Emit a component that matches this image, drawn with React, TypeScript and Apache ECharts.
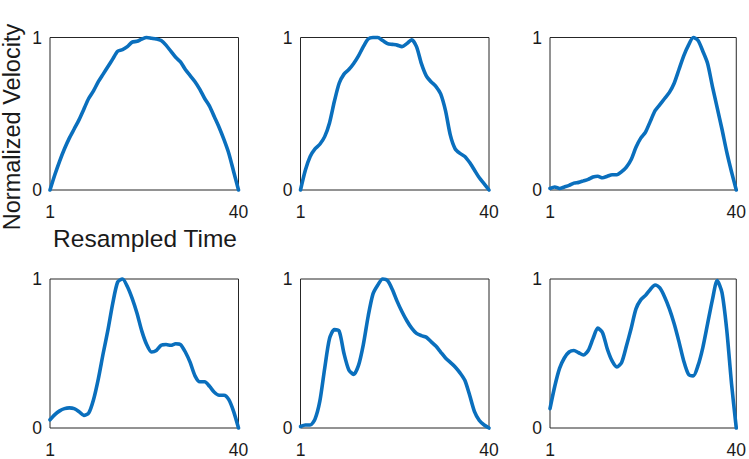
import React, { useEffect, useRef } from "react";
import * as echarts from "echarts";

const timeSteps: number[] = Array.from({ length: 40 }, (_, k) => k + 1);
const xTickLabels = ["1", "40"];
const yTickLabels = ["0", "1"];
const xAxisTitle = "Resampled Time";
const yAxisTitle = "Normalized Velocity";

const velocity1 = [0, 0.1, 0.19, 0.27, 0.34, 0.4, 0.46, 0.53, 0.6, 0.65, 0.71, 0.76, 0.81, 0.86, 0.91, 0.92, 0.94, 0.97, 0.975, 0.99, 1.0, 0.995, 0.99, 0.98, 0.95, 0.91, 0.87, 0.84, 0.79, 0.75, 0.71, 0.66, 0.6, 0.55, 0.48, 0.41, 0.33, 0.24, 0.12, 0];
const velocity2 = [0, 0.13, 0.22, 0.27, 0.3, 0.35, 0.44, 0.58, 0.7, 0.76, 0.79, 0.83, 0.88, 0.94, 0.99, 1.0, 1.0, 0.98, 0.96, 0.955, 0.95, 0.94, 0.96, 0.985, 0.94, 0.83, 0.75, 0.71, 0.68, 0.63, 0.52, 0.36, 0.27, 0.24, 0.22, 0.18, 0.13, 0.08, 0.04, 0];
const velocity3 = [0.01, 0.02, 0.01, 0.02, 0.03, 0.045, 0.05, 0.06, 0.07, 0.085, 0.09, 0.08, 0.09, 0.1, 0.1, 0.12, 0.15, 0.2, 0.28, 0.34, 0.38, 0.45, 0.52, 0.56, 0.6, 0.64, 0.7, 0.79, 0.88, 0.95, 1.0, 0.98, 0.91, 0.83, 0.68, 0.54, 0.4, 0.25, 0.12, 0];
const velocity4 = [0.055, 0.09, 0.115, 0.13, 0.135, 0.13, 0.11, 0.085, 0.1, 0.19, 0.33, 0.5, 0.66, 0.84, 0.98, 1.0, 0.95, 0.87, 0.77, 0.65, 0.56, 0.51, 0.52, 0.555, 0.56, 0.555, 0.565, 0.56, 0.51, 0.44, 0.35, 0.31, 0.31, 0.28, 0.24, 0.22, 0.22, 0.19, 0.11, 0];
const velocity5 = [0.01, 0.02, 0.02, 0.06, 0.18, 0.4, 0.6, 0.66, 0.65, 0.5, 0.39, 0.36, 0.42, 0.56, 0.75, 0.9, 0.96, 1.0, 0.99, 0.93, 0.85, 0.78, 0.72, 0.67, 0.635, 0.62, 0.61, 0.58, 0.55, 0.51, 0.47, 0.44, 0.41, 0.37, 0.32, 0.22, 0.11, 0.05, 0.02, 0];
const velocity6 = [0.13, 0.28, 0.4, 0.47, 0.51, 0.52, 0.505, 0.49, 0.52, 0.6, 0.67, 0.64, 0.53, 0.45, 0.41, 0.44, 0.55, 0.67, 0.8, 0.86, 0.89, 0.93, 0.96, 0.94, 0.88, 0.8, 0.7, 0.58, 0.45, 0.36, 0.35, 0.42, 0.54, 0.7, 0.86, 0.99, 0.91, 0.66, 0.3, 0];

const allSeries = [velocity1, velocity2, velocity3, velocity4, velocity5, velocity6];

const FONT = "'Liberation Sans', Arial, Helvetica, sans-serif";
const TEXT_COLOR = "#1a1a1a";
const LINE_COLOR = "#0a6fbd";

const colLefts = [50, 300.5, 550];
const colWidths = [188.5, 188.5, 187.5];
const rowTops = [37.5, 279];
const plotHeight = 152.5;

export default function App() {
  const ref = useRef<HTMLDivElement>(null);

  useEffect(() => {
    if (!ref.current) return;
    const chart = echarts.init(ref.current, undefined, { renderer: "svg" });

    const grids: any[] = [];
    const xAxes: any[] = [];
    const yAxes: any[] = [];
    const series: any[] = [];

    allSeries.forEach((vals, idx) => {
      const r = Math.floor(idx / 3);
      const c = idx % 3;
      grids.push({
        left: colLefts[c],
        top: rowTops[r],
        width: colWidths[c],
        height: plotHeight,
        show: true,
        borderColor: "#262626",
        borderWidth: 1,
        backgroundColor: "#ffffff",
        containLabel: false,
      });
      xAxes.push({
        type: "value",
        gridIndex: idx,
        min: 1,
        max: 40,
        interval: 39,
        axisLine: { show: false },
        axisTick: { show: false },
        splitLine: { show: false },
        axisLabel: {
          show: true,
          margin: 13,
          fontSize: 17.5,
          fontFamily: FONT,
          color: TEXT_COLOR,
          formatter: (v: number) => (v === 1 ? xTickLabels[0] : v === 40 ? xTickLabels[1] : ""),
        },
      });
      yAxes.push({
        type: "value",
        gridIndex: idx,
        min: 0,
        max: 1,
        interval: 1,
        axisLine: { show: false },
        axisTick: { show: false },
        splitLine: { show: false },
        axisLabel: {
          show: true,
          margin: 8,
          fontSize: 17.5,
          fontFamily: FONT,
          color: TEXT_COLOR,
          padding: [6, 0, 0, 0],
          formatter: (v: number) => (v === 0 ? yTickLabels[0] : v === 1 ? yTickLabels[1] : ""),
        },
      });
      series.push({
        type: "line",
        xAxisIndex: idx,
        yAxisIndex: idx,
        data: timeSteps.map((t, k) => [t, vals[k]]),
        showSymbol: false,
        symbol: "none",
        clip: false,
        smooth: 0.25,
        lineStyle: { color: LINE_COLOR, width: 3.6, cap: "round", join: "round" },
      });
    });

    chart.setOption({
      animation: false,
      backgroundColor: "#ffffff",
      grid: grids,
      xAxis: xAxes,
      yAxis: yAxes,
      series,
      graphic: [
        {
          type: "text",
          x: 145,
          y: 238.5,
          style: {
            text: xAxisTitle,
            fontSize: 24.5,
            fontFamily: FONT,
            fill: TEXT_COLOR,
            align: "center",
            verticalAlign: "middle",
          },
        },
        {
          type: "text",
          x: 11.5,
          y: 127,
          rotation: Math.PI / 2,
          style: {
            text: yAxisTitle,
            fontSize: 23.5,
            fontFamily: FONT,
            fill: TEXT_COLOR,
            align: "center",
            verticalAlign: "middle",
          },
        },
      ],
    });

    return () => {
      chart.dispose();
    };
  }, []);

  return (
    <div
      ref={ref}
      style={{ position: "fixed", left: 0, top: 0, width: 749, height: 459, background: "#fff" }}
    />
  );
}
